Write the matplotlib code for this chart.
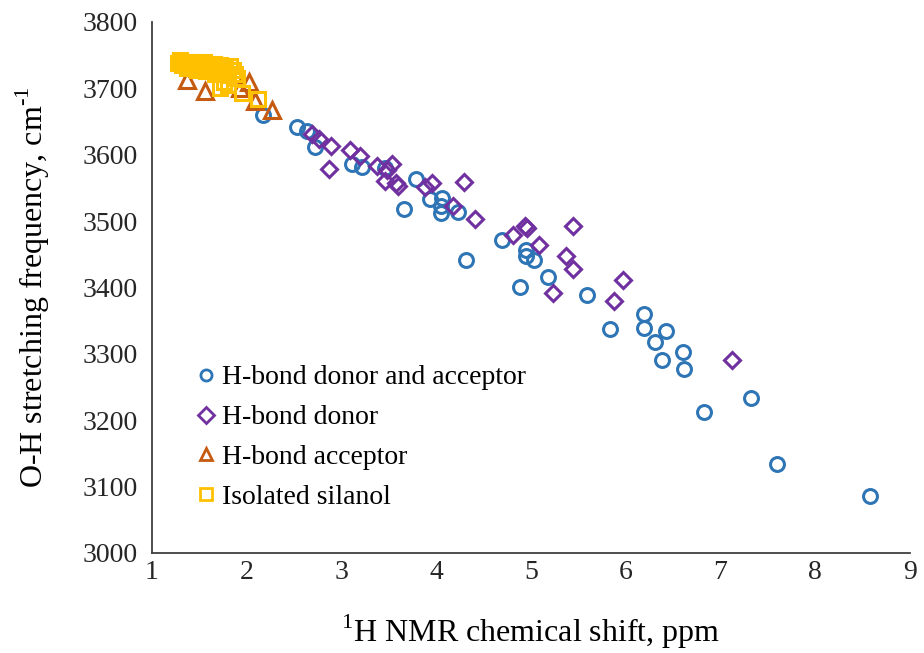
import matplotlib
matplotlib.use("Agg")
import matplotlib.pyplot as plt

# O-H stretching frequency vs 1H NMR shift, grouped by H-bond environment
donor_acceptor_x = [2.17, 2.53, 2.64, 2.72, 3.11, 3.22, 3.46, 3.66, 3.79, 3.93,
                    4.06, 4.05, 4.05, 4.23, 4.31, 4.69, 4.88, 4.95, 4.95, 5.03,
                    5.18, 5.59, 5.83, 6.19, 6.19, 6.43, 6.31, 6.60, 6.38, 6.61,
                    6.83, 7.32, 7.60, 8.58]
donor_acceptor_y = [3660, 3642, 3636, 3612, 3586, 3582, 3580, 3518, 3563, 3534,
                    3535, 3523, 3512, 3514, 3442, 3471, 3401, 3457, 3447, 3442,
                    3416, 3389, 3337, 3360, 3339, 3335, 3318, 3303, 3291, 3277,
                    3212, 3233, 3134, 3086]

donor_x = [2.69, 2.76, 2.89, 2.87, 3.09, 3.19, 3.37, 3.53, 3.48, 3.46,
           3.58, 3.60, 3.88, 3.95, 4.18, 4.29, 4.41, 4.81, 4.94, 4.96,
           5.08, 5.44, 5.37, 5.44, 5.23, 5.97, 5.88, 7.12]
donor_y = [3632, 3623, 3613, 3578, 3607, 3598, 3583, 3586, 3577, 3561,
           3557, 3553, 3551, 3557, 3523, 3559, 3503, 3479, 3492, 3490,
           3464, 3493, 3447, 3428, 3392, 3411, 3379, 3291]

acceptor_x = [1.37, 1.56, 1.93, 2.02, 2.09, 2.27]
acceptor_y = [3712, 3696, 3701, 3710, 3681, 3667]

isolated_x = [1.27, 1.30, 1.32, 1.35, 1.37, 1.40, 1.42, 1.45, 1.47, 1.50,
              1.52, 1.55, 1.57, 1.60, 1.62, 1.65, 1.67, 1.70, 1.72, 1.75,
              1.77, 1.80, 1.82, 1.85, 1.88, 1.90, 1.72, 1.76, 1.80, 1.95,
              2.12]
isolated_y = [3738, 3742, 3735, 3740, 3730, 3738, 3733, 3740, 3728, 3736,
              3731, 3739, 3726, 3734, 3729, 3737, 3722, 3732, 3735, 3725,
              3730, 3720, 3733, 3727, 3722, 3715, 3700, 3710, 3705, 3693,
              3684]

plt.rcParams['font.family'] = ['Liberation Serif', 'DejaVu Serif']
plt.rcParams['mathtext.fontset'] = 'custom'
plt.rcParams['mathtext.rm'] = 'Liberation Serif'

fig = plt.figure(figsize=(9.24, 6.53), dpi=100)
ax = fig.add_axes([152/924, 1 - 553/653, (910 - 152)/924, (553 - 22)/653])

mfc = 'none'
ax.plot(donor_acceptor_x, donor_acceptor_y, 'o', ms=10, mfc=mfc, mec='#2E75B6',
        mew=2.2, ls='none', label='H-bond donor and acceptor')
ax.plot(donor_x, donor_y, 'D', ms=8.5, mfc=mfc, mec='#7030A0',
        mew=2.2, ls='none', label='H-bond donor')
ax.plot(acceptor_x, acceptor_y, '^', ms=12, mfc=mfc, mec='#C55A11',
        mew=2.2, ls='none', label='H-bond acceptor')
ax.plot(isolated_x, isolated_y, 's', ms=9.5, mfc=mfc, mec='#FFC000',
        mew=2.2, ls='none', label='Isolated silanol')

ax.set_xlim(1, 9)
ax.set_ylim(3000, 3800)
ax.set_xticks(range(1, 10))
ax.set_yticks(range(3000, 3801, 100))
ax.tick_params(length=0, labelsize=20, colors='#262626')
ax.tick_params(axis='x', pad=5)
ax.tick_params(axis='y', pad=10)

for side in ['top', 'right']:
    ax.spines[side].set_visible(False)
for side in ['left', 'bottom']:
    ax.spines[side].set_color('#404040')
    ax.spines[side].set_linewidth(1.3)

ax.set_xlabel(r'$^{1}$H NMR chemical shift, ppm', fontsize=23, labelpad=20)
ax.set_ylabel(r'O-H stretching frequency, cm$^{\text{-1}}$', fontsize=23,
              labelpad=22)

leg = ax.legend(loc='upper left', bbox_to_anchor=(0.045, 0.375), frameon=False,
                fontsize=20, handlelength=0.6, handletextpad=0.3,
                labelspacing=0.52, borderaxespad=0)
for h in leg.legend_handles:
    h.set_markersize(8)
    h.set_markeredgewidth(2)

fig.savefig('out.png', dpi=100)
